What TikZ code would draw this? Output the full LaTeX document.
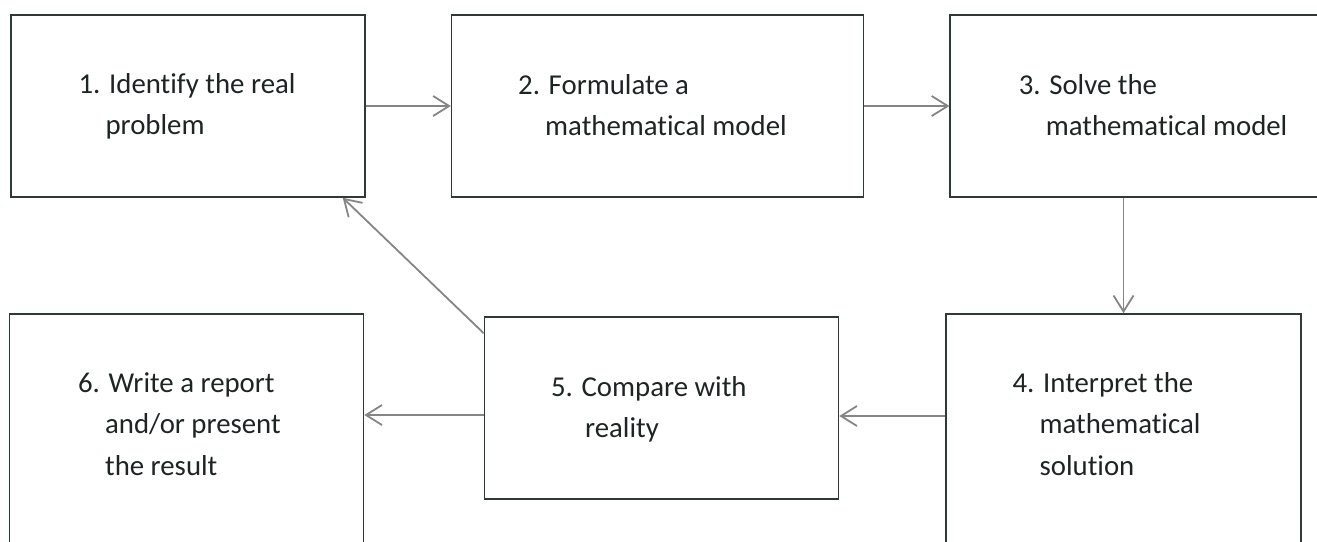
\documentclass[tikz,border=0pt]{standalone}
\usepackage{fontspec}
\setmainfont{Carlito}[Ligatures=NoCommon]
\usetikzlibrary{arrows.meta,positioning}
\definecolor{boxline}{HTML}{2F3A38}
\definecolor{arrowgray}{HTML}{858585}
\definecolor{ink}{HTML}{1E2424}

\begin{document}
\begin{tikzpicture}[
		x=0.5pt, y=-0.5pt,
		font=\fontsize{14.4}{20.8}\selectfont,
		every node/.style={align=left},
		stepbox/.style={rectangle, draw=boxline, line width=0.8pt,
				minimum width=177pt, minimum height=91pt, inner sep=0pt},
		steptext/.style={anchor=base west, inner sep=0pt, text=ink},
		arr/.style={-{Straight Barb[length=8pt, width=10pt]}, line width=0.9pt, arrowgray},
		]
	\clip (0,0) rectangle (1317,541);

	% upper row
	\node[stepbox] at (188,106) (s1) {};
	\node[stepbox, minimum width=206pt, right=42.5pt of s1] (s2) {};
	\node[stepbox, minimum width=206pt, right=42.5pt of s2] (s3) {};

	% lower row
	\node[stepbox, minimum height=114.5pt] at (186.5,428.5) (s6) {};
	\node[stepbox] at (661.5,408) (s5) {};
	\node[stepbox, minimum width=177.5pt, minimum height=114.5pt] at (1123.5,428.5) (s4) {};

	% texts (base = last line)
	\node[steptext] (t1) at ([xshift=34pt, yshift=-60.3pt]s1.north west)
	{1. Identify the real\\\hspace*{13.5pt}problem};
	\node[steptext] (t2) at ([xshift=33.5pt, yshift=-60.8pt]s2.north west)
	{2. Formulate a\\\hspace*{13.5pt}mathematical model};
	\node[steptext] (t3) at ([xshift=34.5pt, yshift=-60.8pt]s3.north west)
	{3. Solve the\\\hspace*{13.5pt}mathematical model};
	\node[steptext] (t4) at ([xshift=33.5pt, yshift=-81.1pt]s4.north west)
	{4. Interpret the\\\hspace*{13.5pt}mathematical\\\hspace*{13.5pt}solution};
	\node[steptext] (t5) at ([xshift=33.5pt, yshift=-60.8pt]s5.north west)
	{5. Compare with\\\hspace*{17pt}reality};
	\node[steptext] (t6) at ([xshift=34.5pt, yshift=-81.1pt]s6.north west)
	{6. Write a report\\\hspace*{13.5pt}and/or present\\\hspace*{13.5pt}the result};

	% connectors
	\draw[arr] (s1.east) -- (s2.west);
	\draw[arr] (s2.east) -- (s3.west);
	\draw[arr] (s3.south -| s4.north) -- (s4.north);
	\draw[arr] ([yshift=-4pt]s4.west |- s5.east) -- ([yshift=-4pt]s5.east);
	\draw[arr] ([yshift=-3.5pt]s5.west) -- ([yshift=-3.5pt]s6.east |- s5.west);
	\draw[arr] ([yshift=-8.5pt]s5.north west) -- ([xshift=-11.5pt]s1.south east);

\end{tikzpicture}
\end{document}
